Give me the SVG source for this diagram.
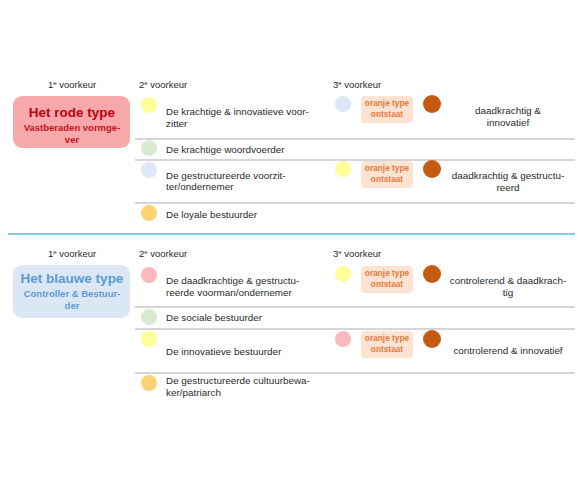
<svg xmlns="http://www.w3.org/2000/svg" width="584" height="477" viewBox="0 0 584 477">
<style>
.t{font-family:"Liberation Sans",Arial,sans-serif;font-size:9.9px;fill:#2a2a2a}
.h{font-family:"Liberation Sans",Arial,sans-serif;font-size:9.5px;fill:#2a2a2a}
.c{text-anchor:middle}
.sup{font-size:6px}
.sep{stroke:#c9c9c9;stroke-width:1.5}
.ob{fill:#fde3d2}
.ot{font-family:"Liberation Sans",Arial,sans-serif;font-size:8.3px;font-weight:bold;fill:#e8793a;text-anchor:middle}
.dk{fill:#c55a11}
.yel{fill:#fdfd9a}
.grn{fill:#d9ead3}
.blu{fill:#dce8f5}
.org{fill:#fdd273}
.pnk{fill:#f9b9bd}
</style>
<rect width="584" height="477" fill="#ffffff"/>
<g id="connectors">
<line class="sep" x1="135" y1="139" x2="575" y2="139"/>
<line class="sep" x1="135" y1="160" x2="575" y2="160"/>
<line class="sep" x1="135" y1="203" x2="575" y2="203"/>
<line x1="8" y1="234" x2="575" y2="234" stroke="#5cb8e2" stroke-width="1.5"/>
<line class="sep" x1="135" y1="307" x2="575" y2="307"/>
<line class="sep" x1="135" y1="329" x2="575" y2="329"/>
<line class="sep" x1="135" y1="373" x2="575" y2="373"/>
</g>
<g id="headers">
<text class="h c" x="72" y="88">1<tspan class="sup" dy="-3">e</tspan><tspan dy="3"> voorkeur</tspan></text>
<text class="h" x="139" y="88">2<tspan class="sup" dy="-3">e</tspan><tspan dy="3"> voorkeur</tspan></text>
<text class="h" x="333" y="88">3<tspan class="sup" dy="-3">e</tspan><tspan dy="3"> voorkeur</tspan></text>
<text class="h c" x="72" y="257">1<tspan class="sup" dy="-3">e</tspan><tspan dy="3"> voorkeur</tspan></text>
<text class="h" x="139" y="257">2<tspan class="sup" dy="-3">e</tspan><tspan dy="3"> voorkeur</tspan></text>
<text class="h" x="333" y="257">3<tspan class="sup" dy="-3">e</tspan><tspan dy="3"> voorkeur</tspan></text>
</g>
<g id="red-type">
<rect x="13" y="96" width="117" height="52" rx="9" fill="#f6a8ab"/>
<text x="72" y="117" text-anchor="middle" font-family="Liberation Sans,Arial,sans-serif" font-size="13.5" font-weight="bold" fill="#c00010">Het rode type</text>
<text x="72" y="131" text-anchor="middle" font-family="Liberation Sans,Arial,sans-serif" font-size="9.5" font-weight="bold" fill="#c8101a">Vastberaden vormge-</text>
<text x="72" y="143" text-anchor="middle" font-family="Liberation Sans,Arial,sans-serif" font-size="9.5" font-weight="bold" fill="#c8101a">ver</text>
</g>
<g id="red-row1">
<circle class="yel" cx="149" cy="105" r="8"/>
<text class="t" x="166" y="115">De krachtige &amp; innovatieve voor-</text>
<text class="t" x="166" y="127">zitter</text>
</g>
<g id="red-row2">
<circle class="grn" cx="149" cy="148" r="8"/>
<text class="t" x="166" y="153">De krachtige woordvoerder</text>
</g>
<g id="red-row3">
<circle class="blu" cx="149" cy="170" r="8"/>
<text class="t" x="166" y="179">De gestructureerde voorzit-</text>
<text class="t" x="166" y="190">ter/ondernemer</text>
</g>
<g id="red-row4">
<circle class="org" cx="149" cy="213" r="8"/>
<text class="t" x="166" y="218">De loyale bestuurder</text>
</g>
<g id="red-combo1">
<circle class="blu" cx="343" cy="104" r="8"/>
<rect class="ob" x="361" y="96" width="52" height="27" rx="4"/>
<text class="ot" x="387" y="106">oranje type</text>
<text class="ot" x="387" y="117">ontstaat</text>
<circle class="dk" cx="432" cy="104" r="9"/>
<text class="t c" x="508" y="114">daadkrachtig &amp;</text>
<text class="t c" x="508" y="126">innovatief</text>
</g>
<g id="red-combo2">
<circle class="yel" cx="343" cy="169" r="8"/>
<rect class="ob" x="361" y="161" width="52" height="27" rx="4"/>
<text class="ot" x="387" y="171">oranje type</text>
<text class="ot" x="387" y="182">ontstaat</text>
<circle class="dk" cx="432" cy="169" r="9"/>
<text class="t c" x="508" y="179">daadkrachtig &amp; gestructu-</text>
<text class="t c" x="508" y="191">reerd</text>
</g>
<g id="blue-type">
<rect x="13" y="265" width="117" height="53" rx="9" fill="#dbe7f5"/>
<text x="72" y="283" text-anchor="middle" font-family="Liberation Sans,Arial,sans-serif" font-size="13.5" font-weight="bold" fill="#5b9bd5">Het blauwe type</text>
<text x="72" y="297" text-anchor="middle" font-family="Liberation Sans,Arial,sans-serif" font-size="9.5" font-weight="bold" fill="#5b9bd5">Controller &amp; Bestuur-</text>
<text x="72" y="309" text-anchor="middle" font-family="Liberation Sans,Arial,sans-serif" font-size="9.5" font-weight="bold" fill="#5b9bd5">der</text>
</g>
<g id="blue-row1">
<circle class="pnk" cx="149" cy="275" r="8"/>
<text class="t" x="166" y="284">De daadkrachtige &amp; gestructu-</text>
<text class="t" x="166" y="296">reerde voorman/ondernemer</text>
</g>
<g id="blue-row2">
<circle class="grn" cx="149" cy="317" r="8"/>
<text class="t" x="166" y="321">De sociale bestuurder</text>
</g>
<g id="blue-row3">
<circle class="yel" cx="149" cy="339" r="8"/>
<text class="t" x="166" y="355">De innovatieve bestuurder</text>
</g>
<g id="blue-row4">
<circle class="org" cx="149" cy="383" r="8"/>
<text class="t" x="166" y="384">De gestructureerde cultuurbewa-</text>
<text class="t" x="166" y="396">ker/patriarch</text>
</g>
<g id="blue-combo1">
<circle class="yel" cx="343" cy="274" r="8"/>
<rect class="ob" x="361" y="266" width="52" height="27" rx="4"/>
<text class="ot" x="387" y="276">oranje type</text>
<text class="ot" x="387" y="287">ontstaat</text>
<circle class="dk" cx="432" cy="274" r="9"/>
<text class="t c" x="508" y="284">controlerend &amp; daadkrach-</text>
<text class="t c" x="508" y="296">tig</text>
</g>
<g id="blue-combo2">
<circle class="pnk" cx="343" cy="339" r="8"/>
<rect class="ob" x="361" y="331" width="52" height="27" rx="4"/>
<text class="ot" x="387" y="341">oranje type</text>
<text class="ot" x="387" y="352">ontstaat</text>
<circle class="dk" cx="432" cy="339" r="9"/>
<text class="t c" x="508" y="354">controlerend &amp; innovatief</text>
</g>
</svg>
